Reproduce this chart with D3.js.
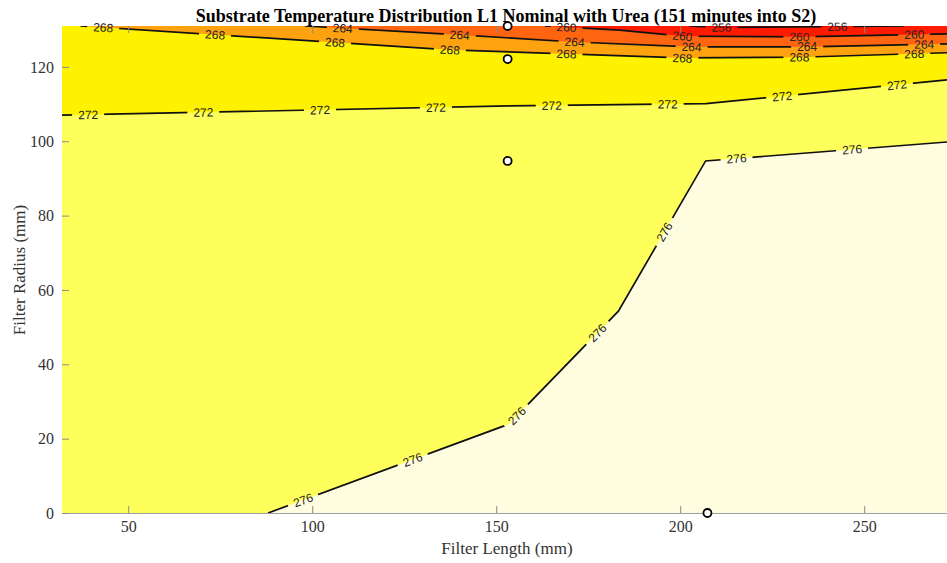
<!DOCTYPE html>
<html>
<head>
<meta charset="utf-8">
<script src="https://cdn.jsdelivr.net/npm/d3@7"></script>
<style>
  html, body { margin: 0; padding: 0; background: #fff; }
  svg { display: block; }
</style>
</head>
<body>
<svg id="chart" width="947" height="563"></svg>
<script>
// ---------- data (mm, mm) ----------
const xTicks = [50, 100, 150, 200, 250];
const yTicks = [0, 20, 40, 60, 80, 100, 120];
const xDomain = [32, 272.5];
const yDomain = [0, 131];

const contourLevels = [256, 260, 264, 268, 272, 276];

const line256 = [[202.5, 131], [210.6, 130.6], [240.5, 130.8], [260.9, 131]];
const line260 = [[163.2, 131], [183.5, 129.9], [200.6, 128.3], [232.4, 128.1], [272.5, 128.9]];
const line264 = [[98.0, 131], [140.1, 128.6], [171.3, 126.7], [203.1, 125.4], [234.5, 125.4], [272.5, 126.2]];
const line268 = [[37.0, 131], [137.4, 124.6], [200.6, 122.4], [232.4, 122.6], [272.5, 123.8]];
const line272 = [[32, 107.0], [153.4, 109.5], [207.0, 110.1], [272.5, 116.5]];
const line276 = [[88.0, 0], [153.4, 23.9], [183.2, 54.3], [206.9, 94.7], [272.5, 99.8]];

const labels256 = [211.2, 242.7];
const labels260 = [169.1, 200.6, 232.4, 263.6];
const labels264 = [108.3, 140.1, 171.3, 203.1, 234.5, 266.3];
const labels268 = [43.2, 73.6, 106.2, 137.4, 169.1, 200.6, 232.4, 263.6];
const labels272 = [39.1, 70.4, 102.1, 133.6, 165.1, 196.6, 227.7, 258.9];
const labels276 = [97.5, 127.3, 155.6, 177.5, 195.7, 215.3, 246.7];

const sensorX = [153.1, 153.1, 153.1, 207.4];
const sensorY = [131.0, 122.1, 94.7, 0];

// band colours: above 256, 256-260, 260-264, 264-268, 268-272, 272-276, >276
const colAbove256 = "#e80000";
const col256_260 = "#ff1a00";
const col260_264 = "#ff6410";
const col264_268 = "#ffa210";
const col268_272 = "#fff200";
const col272_276 = "#ffff5c";
const colOver276 = "#fffde0";

// ---------- layout ----------
const svg = d3.select("#chart");
const L = 62, R = 947, T = 26, B = 513;
const x = d3.scaleLinear().domain(xDomain).range([L, R]);
const y = d3.scaleLinear().domain(yDomain).range([B, T]);
const xmin = xDomain[0], xmax = xDomain[1], ymax = yDomain[1], ymin = yDomain[0];

const defs = svg.append("defs");
defs.append("clipPath").attr("id", "plotclip")
  .append("rect").attr("x", L).attr("y", T).attr("width", R - L).attr("height", B - T);

const path = d3.line().x(d => x(d[0])).y(d => y(d[1]));

// ---------- fills ----------
const fills = svg.append("g").attr("clip-path", "url(#plotclip)");
fills.append("rect").attr("x", L).attr("y", T).attr("width", R - L).attr("height", B - T)
  .attr("fill", colOver276);
const polys = [
  { pts: line276.concat([[xmax, ymax], [xmin, ymax], [xmin, ymin]]), c: col272_276 },
  { pts: line272.concat([[xmax, ymax], [xmin, ymax]]), c: col268_272 },
  { pts: line268.concat([[xmax, ymax]]), c: col264_268 },
  { pts: line264.concat([[xmax, ymax]]), c: col260_264 },
  { pts: line260.concat([[xmax, ymax]]), c: col256_260 },
  { pts: line256, c: colAbove256 }
];
polys.forEach(p => {
  fills.append("path").attr("d", path(p.pts) + "Z").attr("fill", p.c).attr("stroke", "none");
});

// ---------- contour labels placement ----------
function interp(line, xv) {
  for (let i = 0; i < line.length - 1; i++) {
    const a = line[i], b = line[i + 1];
    if (xv >= a[0] && xv <= b[0]) {
      const t = (xv - a[0]) / (b[0] - a[0]);
      const px = x(xv), py = y(a[1] + t * (b[1] - a[1]));
      const ang = Math.atan2(y(b[1]) - y(a[1]), x(b[0]) - x(a[0])) * 180 / Math.PI;
      return { px, py, ang };
    }
  }
  const a = line[line.length - 2], b = line[line.length - 1];
  return { px: x(xv), py: y(b[1]), ang: Math.atan2(y(b[1]) - y(a[1]), x(b[0]) - x(a[0])) * 180 / Math.PI };
}

const sets = [
  { line: line256, labels: labels256, lvl: contourLevels[0] },
  { line: line260, labels: labels260, lvl: contourLevels[1] },
  { line: line264, labels: labels264, lvl: contourLevels[2] },
  { line: line268, labels: labels268, lvl: contourLevels[3] },
  { line: line272, labels: labels272, lvl: contourLevels[4] },
  { line: line276, labels: labels276, lvl: contourLevels[5] }
];

const mask = defs.append("mask").attr("id", "labelmask").attr("maskUnits", "userSpaceOnUse")
  .attr("x", 0).attr("y", 0).attr("width", 947).attr("height", 563);
mask.append("rect").attr("x", 0).attr("y", 0).attr("width", 947).attr("height", 563).attr("fill", "#fff");

const placed = [];
sets.forEach(s => {
  s.labels.forEach(lx => {
    const p = interp(s.line, lx);
    placed.push({ ...p, text: String(s.lvl) });
    mask.append("rect").attr("x", -16).attr("y", -6).attr("width", 32).attr("height", 12)
      .attr("fill", "#000")
      .attr("transform", `translate(${p.px},${p.py}) rotate(${p.ang})`);
  });
});

// ---------- contour lines ----------
const lines = svg.append("g").attr("clip-path", "url(#plotclip)");
const lg = lines.append("g").attr("mask", "url(#labelmask)");
sets.forEach(s => {
  lg.append("path").attr("d", path(s.line)).attr("fill", "none")
    .attr("stroke", "#111").attr("stroke-width", 1.7);
});

svg.append("g").selectAll("text").data(placed).join("text")
  .attr("transform", d => `translate(${d.px},${d.py}) rotate(${d.ang})`)
  .attr("text-anchor", "middle").attr("dy", "0.36em")
  .attr("font-family", "Liberation Sans, Arial, sans-serif").attr("font-size", 12)
  .attr("fill", "#222")
  .text(d => d.text);

// ---------- axes ----------
const tickCol = "#8a8a8a";
const gx = svg.append("g").attr("transform", `translate(0,${B})`)
  .call(d3.axisBottom(x).tickValues(xTicks).tickSize(-7).tickSizeOuter(0).tickPadding(8));
const gxt = svg.append("g").attr("transform", `translate(0,${T})`)
  .call(d3.axisTop(x).tickValues(xTicks).tickSize(-7).tickSizeOuter(0).tickFormat(""));
const gy = svg.append("g").attr("transform", `translate(${L},0)`)
  .call(d3.axisLeft(y).tickValues(yTicks).tickSize(-7).tickSizeOuter(0).tickPadding(8));

[gx, gxt, gy].forEach(g => {
  g.selectAll(".tick line").attr("stroke", tickCol).attr("stroke-width", 1);
  g.selectAll("text").attr("font-family", "Liberation Serif, Times New Roman, serif")
    .attr("font-size", 16).attr("fill", "#333");
});
gx.select(".domain").attr("stroke", "#a0a0a0");
gxt.select(".domain").attr("stroke", "none");
gy.select(".domain").attr("stroke", "none");

// ---------- sensors ----------
svg.append("g").selectAll("circle").data(sensorX.map((v, i) => [v, sensorY[i]])).join("circle")
  .attr("cx", d => x(d[0])).attr("cy", d => y(d[1])).attr("r", 4)
  .attr("fill", "#fff").attr("stroke", "#000").attr("stroke-width", 1.8);

// ---------- titles ----------
svg.append("text").attr("x", 506).attr("y", 22).attr("text-anchor", "middle")
  .attr("font-family", "Liberation Serif, Times New Roman, serif").attr("font-weight", "bold")
  .attr("font-size", 18).attr("fill", "#000")
  .text("Substrate Temperature Distribution L1 Nominal with Urea (151 minutes into S2)");

svg.append("text").attr("x", 507).attr("y", 554).attr("text-anchor", "middle")
  .attr("font-family", "Liberation Serif, Times New Roman, serif")
  .attr("font-size", 17).attr("fill", "#333").text("Filter Length (mm)");

svg.append("text").attr("transform", "translate(25,270) rotate(-90)").attr("text-anchor", "middle")
  .attr("font-family", "Liberation Serif, Times New Roman, serif")
  .attr("font-size", 17).attr("fill", "#333").text("Filter Radius (mm)");
</script>
</body>
</html>
